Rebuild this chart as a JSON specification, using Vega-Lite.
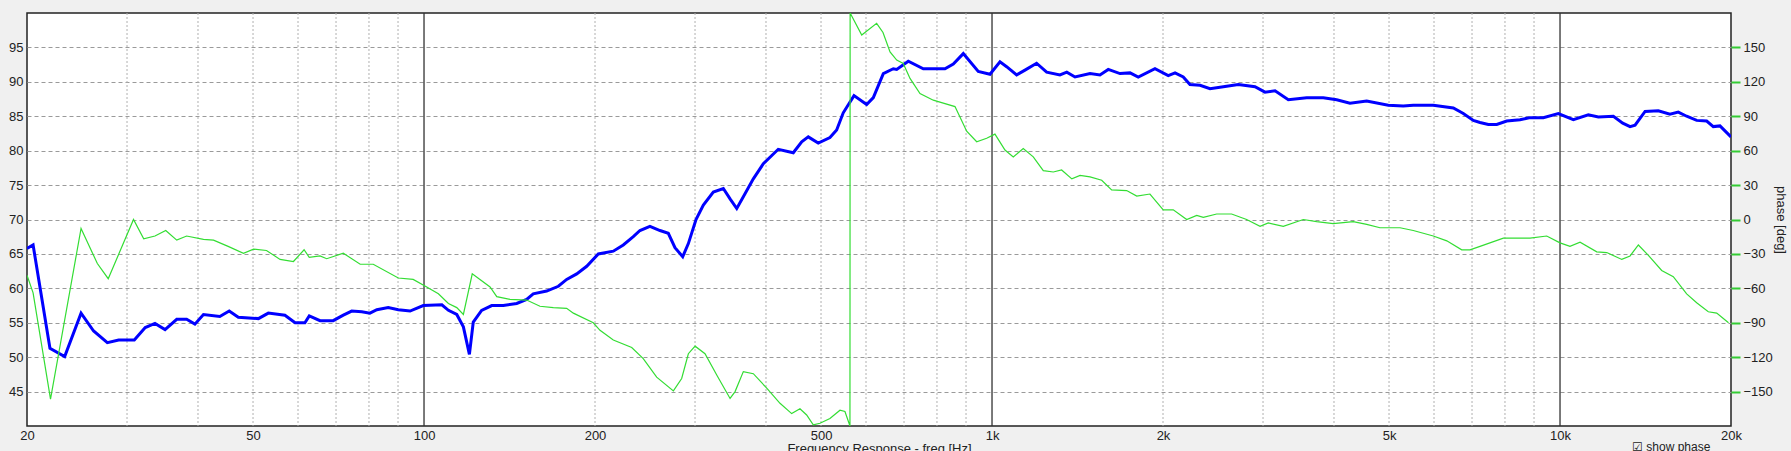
{
  "$schema": "https://vega.github.io/schema/vega-lite/v6.json",
  "width": 1704,
  "height": 413,
  "autosize": {"type": "none"},
  "padding": {"left": 27, "top": 13, "right": 60, "bottom": 25},
  "background": "#f0f0f0",
  "config": {
    "view": {"fill": "white", "stroke": "#222222", "strokeWidth": 1.5},
    "font": "Liberation Sans",
    "axis": {"labelFont": "Liberation Sans", "labelFontSize": 13, "labelColor": "#222222", "titleFont": "Liberation Sans", "titleFontSize": 13, "titleFontWeight": "normal", "titleColor": "#222222"}
  },
  "datasets": {
    "minor": [{"f": 30}, {"f": 40}, {"f": 50}, {"f": 60}, {"f": 70}, {"f": 80}, {"f": 90}, {"f": 200}, {"f": 300}, {"f": 400}, {"f": 500}, {"f": 600}, {"f": 700}, {"f": 800}, {"f": 900}, {"f": 2000}, {"f": 3000}, {"f": 4000}, {"f": 5000}, {"f": 6000}, {"f": 7000}, {"f": 8000}, {"f": 9000}],
    "major": [{"f": 100}, {"f": 1000}, {"f": 10000}],
    "mag": [
      {"f": 20, "v": 65.8}, {"f": 20.5, "v": 66.3}, {"f": 21.95, "v": 51.3}, {"f": 23.3, "v": 50.1}, {"f": 24.9, "v": 56.4}, {"f": 26.2, "v": 53.8}, {"f": 27.7, "v": 52.1}, {"f": 29.0, "v": 52.5}, {"f": 30.9, "v": 52.5}, {"f": 32.3, "v": 54.3}, {"f": 33.6, "v": 54.9}, {"f": 35.0, "v": 54.0}, {"f": 36.7, "v": 55.5}, {"f": 38.2, "v": 55.5}, {"f": 39.5, "v": 54.8}, {"f": 40.9, "v": 56.2}, {"f": 43.7, "v": 55.9}, {"f": 45.4, "v": 56.7}, {"f": 47.1, "v": 55.8}, {"f": 51.1, "v": 55.6}, {"f": 53.2, "v": 56.4}, {"f": 56.9, "v": 56.1}, {"f": 59.3, "v": 55.0}, {"f": 61.7, "v": 55.0}, {"f": 62.8, "v": 56.0}, {"f": 65.6, "v": 55.3}, {"f": 69.2, "v": 55.3}, {"f": 72.1, "v": 56.1}, {"f": 74.6, "v": 56.7}, {"f": 77.7, "v": 56.6}, {"f": 80.3, "v": 56.4}, {"f": 82.6, "v": 56.9}, {"f": 86.5, "v": 57.2}, {"f": 90.1, "v": 56.9}, {"f": 94.5, "v": 56.7}, {"f": 99.7, "v": 57.5}, {"f": 107.5, "v": 57.6}, {"f": 110.4, "v": 56.8}, {"f": 114.2, "v": 56.2}, {"f": 117.3, "v": 54.4}, {"f": 120.2, "v": 50.4}, {"f": 122.1, "v": 55.1}, {"f": 126.3, "v": 56.8}, {"f": 131.6, "v": 57.5}, {"f": 137.9, "v": 57.5}, {"f": 145.6, "v": 57.8}, {"f": 151.6, "v": 58.4}, {"f": 155.7, "v": 59.2}, {"f": 164.4, "v": 59.6}, {"f": 172.4, "v": 60.3}, {"f": 178.3, "v": 61.3}, {"f": 185.7, "v": 62.1}, {"f": 193.4, "v": 63.2}, {"f": 202.7, "v": 65.0}, {"f": 215.4, "v": 65.4}, {"f": 224.3, "v": 66.3}, {"f": 233.6, "v": 67.5}, {"f": 240.0, "v": 68.4}, {"f": 249.9, "v": 69.0}, {"f": 260.3, "v": 68.4}, {"f": 269.2, "v": 68.0}, {"f": 276.6, "v": 65.9}, {"f": 285.4, "v": 64.6}, {"f": 292.0, "v": 66.5}, {"f": 301.2, "v": 70.0}, {"f": 310.3, "v": 72.1}, {"f": 323.1, "v": 74.0}, {"f": 336.5, "v": 74.5}, {"f": 345.8, "v": 73.0}, {"f": 355.3, "v": 71.6}, {"f": 364.9, "v": 73.3}, {"f": 380.0, "v": 75.9}, {"f": 395.7, "v": 78.1}, {"f": 420.4, "v": 80.2}, {"f": 446.8, "v": 79.7}, {"f": 462.3, "v": 81.3}, {"f": 474.8, "v": 82.0}, {"f": 494.4, "v": 81.1}, {"f": 518.4, "v": 81.9}, {"f": 532.7, "v": 83.0}, {"f": 547.1, "v": 85.5}, {"f": 571.5, "v": 88.0}, {"f": 601.6, "v": 86.7}, {"f": 618.1, "v": 87.7}, {"f": 643.6, "v": 91.2}, {"f": 670.2, "v": 91.9}, {"f": 679.5, "v": 91.8}, {"f": 712.2, "v": 93.0}, {"f": 756.9, "v": 91.9}, {"f": 788.2, "v": 91.9}, {"f": 826.4, "v": 91.9}, {"f": 854.7, "v": 92.6}, {"f": 890.1, "v": 94.1}, {"f": 945.8, "v": 91.5}, {"f": 991.8, "v": 91.1}, {"f": 1032.8, "v": 92.9}, {"f": 1061, "v": 92.2}, {"f": 1105, "v": 91.0}, {"f": 1143, "v": 91.7}, {"f": 1198, "v": 92.7}, {"f": 1248, "v": 91.4}, {"f": 1317, "v": 91.0}, {"f": 1354, "v": 91.4}, {"f": 1400, "v": 90.7}, {"f": 1488, "v": 91.2}, {"f": 1549, "v": 91.0}, {"f": 1602, "v": 91.8}, {"f": 1680, "v": 91.2}, {"f": 1750, "v": 91.3}, {"f": 1809, "v": 90.7}, {"f": 1936, "v": 91.9}, {"f": 2043, "v": 90.9}, {"f": 2100, "v": 91.3}, {"f": 2171, "v": 90.7}, {"f": 2231, "v": 89.6}, {"f": 2324, "v": 89.5}, {"f": 2420, "v": 89.0}, {"f": 2554, "v": 89.3}, {"f": 2714, "v": 89.6}, {"f": 2904, "v": 89.3}, {"f": 3024, "v": 88.5}, {"f": 3150, "v": 88.7}, {"f": 3324, "v": 87.4}, {"f": 3581, "v": 87.7}, {"f": 3830, "v": 87.7}, {"f": 4044, "v": 87.4}, {"f": 4268, "v": 86.9}, {"f": 4567, "v": 87.2}, {"f": 4985, "v": 86.6}, {"f": 5297, "v": 86.5}, {"f": 5516, "v": 86.6}, {"f": 5983, "v": 86.6}, {"f": 6489, "v": 86.2}, {"f": 6757, "v": 85.4}, {"f": 7037, "v": 84.4}, {"f": 7230, "v": 84.1}, {"f": 7478, "v": 83.8}, {"f": 7738, "v": 83.8}, {"f": 8058, "v": 84.3}, {"f": 8504, "v": 84.5}, {"f": 8856, "v": 84.8}, {"f": 9346, "v": 84.8}, {"f": 9932, "v": 85.4}, {"f": 10556, "v": 84.5}, {"f": 11218, "v": 85.2}, {"f": 11682, "v": 84.9}, {"f": 12414, "v": 85.0}, {"f": 12896, "v": 84.0}, {"f": 13284, "v": 83.5}, {"f": 13556, "v": 83.7}, {"f": 14118, "v": 85.7}, {"f": 14894, "v": 85.8}, {"f": 15616, "v": 85.3}, {"f": 16150, "v": 85.6}, {"f": 16710, "v": 85.0}, {"f": 17402, "v": 84.4}, {"f": 18122, "v": 84.3}, {"f": 18614, "v": 83.5}, {"f": 19126, "v": 83.6}, {"f": 20000, "v": 82.0}
    ],
    "phase": [
      {"f": 20, "p": -48.6}, {"f": 20.5, "p": -64}, {"f": 22.0, "p": -156.6}, {"f": 24.9, "p": -7.8}, {"f": 26.6, "p": -38.4}, {"f": 27.8, "p": -51.6}, {"f": 30.8, "p": 0}, {"f": 32.1, "p": -16.8}, {"f": 33.6, "p": -14.4}, {"f": 35.1, "p": -9.6}, {"f": 36.7, "p": -18}, {"f": 38.2, "p": -14.4}, {"f": 40.9, "p": -17.4}, {"f": 42.6, "p": -18}, {"f": 45.2, "p": -23.4}, {"f": 48.1, "p": -29.4}, {"f": 50.1, "p": -25.8}, {"f": 52.8, "p": -27}, {"f": 55.8, "p": -34.8}, {"f": 58.9, "p": -36.6}, {"f": 61.5, "p": -26.4}, {"f": 62.8, "p": -33}, {"f": 65.6, "p": -31.8}, {"f": 67.4, "p": -34.2}, {"f": 72.1, "p": -29.4}, {"f": 77.2, "p": -39}, {"f": 81.4, "p": -39}, {"f": 90.1, "p": -51}, {"f": 95.7, "p": -52.2}, {"f": 101.1, "p": -58.8}, {"f": 106.0, "p": -64.8}, {"f": 110.4, "p": -73.2}, {"f": 114.2, "p": -76.8}, {"f": 117.3, "p": -82.8}, {"f": 121.6, "p": -47.4}, {"f": 130.7, "p": -58.8}, {"f": 134.3, "p": -67.2}, {"f": 141.7, "p": -69.6}, {"f": 151.6, "p": -70.2}, {"f": 160.0, "p": -75.6}, {"f": 168.9, "p": -76.8}, {"f": 178.3, "p": -77.4}, {"f": 183.2, "p": -81.6}, {"f": 198.6, "p": -90}, {"f": 204.1, "p": -96.6}, {"f": 215.4, "p": -105}, {"f": 232.1, "p": -111.6}, {"f": 243.2, "p": -121.2}, {"f": 256.8, "p": -137.4}, {"f": 274.8, "p": -149.4}, {"f": 284.2, "p": -138.6}, {"f": 292.0, "p": -117}, {"f": 300.1, "p": -110.4}, {"f": 312.4, "p": -117}, {"f": 327.6, "p": -135.6}, {"f": 345.8, "p": -156}, {"f": 352.9, "p": -150}, {"f": 364.9, "p": -132.6}, {"f": 380.0, "p": -134.4}, {"f": 401.2, "p": -147}, {"f": 423.4, "p": -160.2}, {"f": 443.9, "p": -169.2}, {"f": 459.1, "p": -165}, {"f": 471.7, "p": -170.4}, {"f": 484.5, "p": -179}, {"f": 497.9, "p": -177.6}, {"f": 518.4, "p": -173.4}, {"f": 539.9, "p": -166.2}, {"f": 550.9, "p": -167.4}, {"f": 562.2, "p": -180}, {"f": 562.6, "p": 180}, {"f": 589.7, "p": 160.8}, {"f": 626.4, "p": 171}, {"f": 642.8, "p": 163}, {"f": 661.4, "p": 146}, {"f": 679.5, "p": 139}, {"f": 697.8, "p": 136}, {"f": 717.2, "p": 123}, {"f": 746.8, "p": 109.8}, {"f": 788.2, "p": 104}, {"f": 820.8, "p": 101.4}, {"f": 860.6, "p": 98.4}, {"f": 902.4, "p": 77}, {"f": 939.8, "p": 67.8}, {"f": 978.6, "p": 70.8}, {"f": 1012, "p": 74.4}, {"f": 1054, "p": 60.6}, {"f": 1090, "p": 54.6}, {"f": 1135, "p": 61.8}, {"f": 1182, "p": 54.6}, {"f": 1231, "p": 42.6}, {"f": 1282, "p": 41.4}, {"f": 1326, "p": 43.2}, {"f": 1382, "p": 35.4}, {"f": 1429, "p": 38.4}, {"f": 1488, "p": 37.2}, {"f": 1560, "p": 34.2}, {"f": 1624, "p": 25.8}, {"f": 1726, "p": 25.2}, {"f": 1798, "p": 20.4}, {"f": 1897, "p": 22.2}, {"f": 2002, "p": 8.4}, {"f": 2085, "p": 8.4}, {"f": 2202, "p": 0}, {"f": 2293, "p": 3.6}, {"f": 2355, "p": 1.8}, {"f": 2486, "p": 4.8}, {"f": 2641, "p": 4.8}, {"f": 2807, "p": 0}, {"f": 2964, "p": -6}, {"f": 3065, "p": -3}, {"f": 3257, "p": -6}, {"f": 3532, "p": 0}, {"f": 3728, "p": -1.8}, {"f": 3988, "p": -3.6}, {"f": 4325, "p": -1.8}, {"f": 4567, "p": -4.2}, {"f": 4820, "p": -7.2}, {"f": 5228, "p": -7.2}, {"f": 5516, "p": -9.6}, {"f": 5983, "p": -14.4}, {"f": 6319, "p": -18.6}, {"f": 6714, "p": -26.4}, {"f": 6942, "p": -26.4}, {"f": 7230, "p": -23.4}, {"f": 7948, "p": -16.2}, {"f": 8856, "p": -16.2}, {"f": 9476, "p": -14.4}, {"f": 10000, "p": -20.4}, {"f": 10412, "p": -23.4}, {"f": 10847, "p": -19.8}, {"f": 11606, "p": -28.2}, {"f": 12086, "p": -28.8}, {"f": 12846, "p": -34.8}, {"f": 13284, "p": -31.8}, {"f": 13738, "p": -22.2}, {"f": 14308, "p": -31.2}, {"f": 15101, "p": -44.4}, {"f": 15828, "p": -49.8}, {"f": 16710, "p": -64.8}, {"f": 17402, "p": -72.6}, {"f": 18240, "p": -80.4}, {"f": 18874, "p": -81.6}, {"f": 19800, "p": -90}
    ],
    "note": [{"f": 13388, "v": 40, "t": "☑ show phase"}]
  },
  "encoding": {
    "x": {
      "field": "f",
      "type": "quantitative",
      "scale": {"type": "log", "domain": [20, 20000], "nice": false},
      "axis": {
        "values": [20, 50, 100, 200, 500, 1000, 2000, 5000, 10000, 20000],
        "labelExpr": "datum.value >= 1000 ? format(datum.value / 1000, 'd') + 'k' : format(datum.value, 'd')",
        "grid": false,
        "ticks": false,
        "domain": false,
        "labelPadding": 3,
        "labelFlush": false,
        "title": "Frequency Response - freq [Hz]",
        "titlePadding": 0
      }
    }
  },
  "layer": [
    {"data": {"name": "minor"}, "mark": {"type": "rule", "color": "#b0b0b0", "strokeDash": [2, 2], "strokeWidth": 1}},
    {"data": {"name": "major"}, "mark": {"type": "rule", "color": "#333333", "strokeWidth": 1.3}},
    {
      "data": {"name": "mag"},
      "mark": {"type": "line", "color": "#0000ff", "strokeWidth": 3, "clip": true},
      "encoding": {
        "y": {
          "field": "v", "type": "quantitative",
          "scale": {"domain": [40, 100], "nice": false, "zero": false},
          "axis": {"values": [45, 50, 55, 60, 65, 70, 75, 80, 85, 90, 95], "grid": true, "gridDash": [4, 3], "gridColor": "#9a9a9a", "ticks": false, "domain": false, "labelPadding": 4, "title": null}
        }
      }
    },
    {
      "data": {"name": "phase"},
      "mark": {"type": "line", "color": "#33dd33", "strokeWidth": 1.2, "clip": true},
      "encoding": {
        "y": {
          "field": "p", "type": "quantitative",
          "scale": {"domain": [-180, 180], "nice": false},
          "axis": {"orient": "right", "values": [-150, -120, -90, -60, -30, 0, 30, 60, 90, 120, 150], "grid": false, "tickColor": "#33cc33", "tickSize": 9, "tickWidth": 2, "domain": false, "labelPadding": 3, "title": "phase [deg]", "titlePadding": 1}
        }
      }
    },
    {
      "data": {"name": "note"},
      "mark": {"type": "text", "align": "left", "baseline": "middle", "dy": 21, "fontSize": 12, "font": "Liberation Sans", "color": "#222222"},
      "encoding": {
        "y": {"field": "v", "type": "quantitative", "scale": {"domain": [40, 100], "nice": false, "zero": false}, "axis": null},
        "text": {"field": "t"}
      }
    }
  ],
  "resolve": {"scale": {"y": "independent"}}
}
